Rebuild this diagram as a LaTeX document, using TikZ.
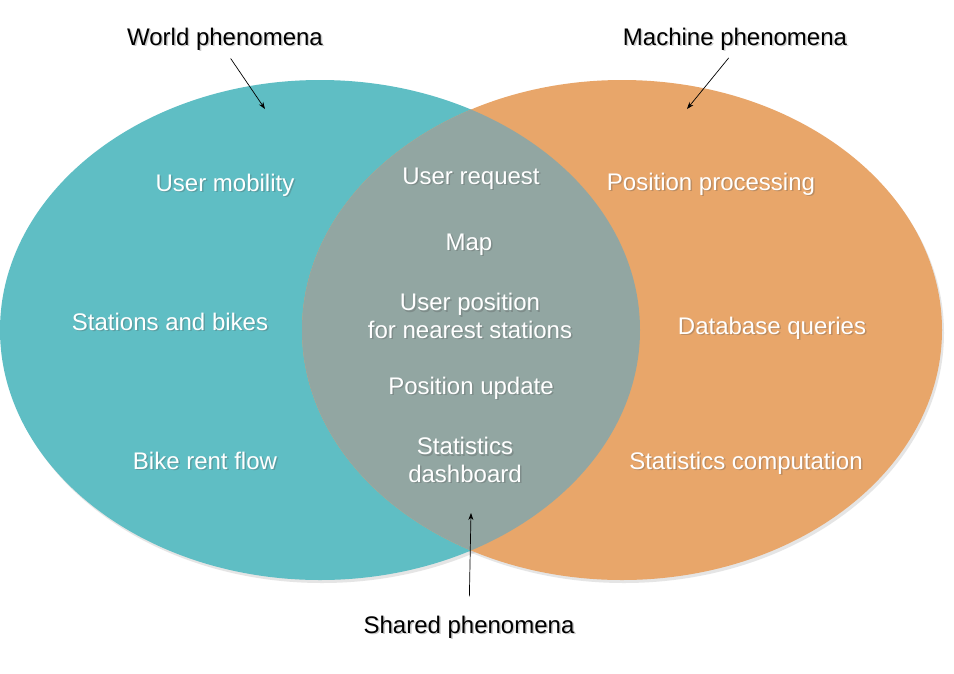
\documentclass[tikz,border=0pt]{standalone}
\usepackage{fontspec}
\setmainfont{Liberation Sans}
\usetikzlibrary{arrows.meta,calc}
\definecolor{tealfill}{HTML}{5FBEC4}
\definecolor{orangefill}{HTML}{E8A66A}
\definecolor{sharedfill}{HTML}{92A6A2}
\newcommand\shlabel[4]{%
  \node[#3, text=black!70, opacity=0.28, anchor=base] (#1s) at ($(#2)+(1.5,1.8)$) {#4};
  \node[#3, anchor=base] (#1) at (#2) {#4};}
\begin{document}
\begin{tikzpicture}[x=1pt,y=-1pt,
  wtext/.style={text=white, font=\fontsize{24}{27.5}\selectfont, align=center, inner sep=0pt},
  btext/.style={text=black, font=\fontsize{24}{27.5}\selectfont, align=center, inner sep=0pt},
  pointer/.style={-{Stealth[length=7pt,width=5pt]}, line width=0.7pt, black},
  setshape/.style={x radius=320, y radius=250}]
\useasboundingbox (0,0) rectangle (954,673);
\fill[white] (0,0) rectangle (954,673);
% soft shadows of the sets
\fill[black!40, opacity=0.25] (322,333) ellipse [setshape];
\fill[black!40, opacity=0.25] (624,333) ellipse [setshape];
% sets
\fill[tealfill] (320,330) ellipse [setshape];
\fill[orangefill] (622,330) ellipse [setshape];
\begin{scope}
  \clip (320,330) ellipse [setshape];
  \fill[sharedfill] (622,330) ellipse [setshape];
\end{scope}
% outer labels
\shlabel{wl}{225,45}{btext}{World phenomena}
\shlabel{ml}{735,45}{btext}{Machine phenomena}
\shlabel{sl}{469,633}{btext}{Shared phenomena}
% world items
\shlabel{um}{225,191}{wtext}{User mobility}
\shlabel{sb}{170,330}{wtext}{Stations and bikes}
\shlabel{br}{205,469}{wtext}{Bike rent flow}
% shared items
\shlabel{ur}{471,184}{wtext}{User request}
\shlabel{mp}{469,250}{wtext}{Map}
\shlabel{up}{470,338}{wtext}{User position\\for nearest stations}
\shlabel{pu}{471,394}{wtext}{Position update}
\shlabel{sd}{465,482}{wtext}{Statistics\\dashboard}
% machine items
\shlabel{pp}{711,190}{wtext}{Position processing}
\shlabel{dq}{772,334}{wtext}{Database queries}
\shlabel{sc}{746,469}{wtext}{Statistics computation}
% pointers
\coordinate (wtip) at (265,109);
\coordinate (mtip) at (687,109);
\coordinate (stip) at (471,513);
\draw[pointer, shorten <=10pt] (wl.south) -- (wtip);
\draw[pointer, shorten <=10pt] (ml.south) -- (mtip);
\draw[pointer, shorten <=19pt] (sl.north) -- (stip);
\end{tikzpicture}
\end{document}
